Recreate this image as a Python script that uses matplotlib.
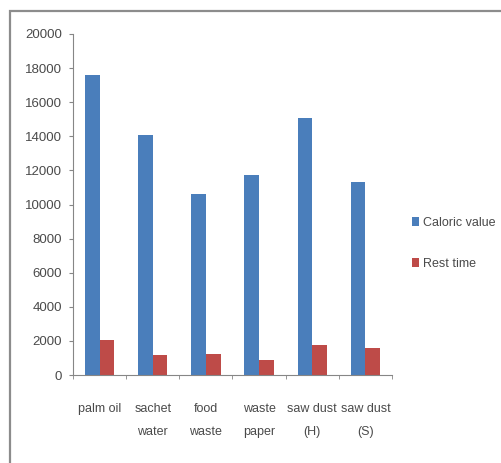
import matplotlib
matplotlib.use("Agg")
import matplotlib.pyplot as plt
import numpy as np
from matplotlib.patches import Rectangle

categories = ["palm oil", "sachet\nwater", "food\nwaste", "waste\npaper", "saw dust\n(H)", "saw dust\n(S)"]
caloric_value = [17600, 14100, 10600, 11750, 15050, 11300]
rest_time = [2050, 1150, 1250, 900, 1750, 1600]
y_ticks = [0, 2000, 4000, 6000, 8000, 10000, 12000, 14000, 16000, 18000, 20000]

blue = "#4a7ebb"
red = "#be4b48"
text_gray = "#4a4a4a"
axis_gray = "#868686"
fam = ["Liberation Sans Narrow", "Liberation Sans", "DejaVu Sans"]

W, H = 502, 463
fig = plt.figure(figsize=(W / 100, H / 100), dpi=100)
fig.patch.set_facecolor("white")

# outer chart frame (only top/left edges fall inside the canvas)
fig.add_artist(Rectangle((10 / W, -0.1), 1.2, 1.1 - 11 / H,
                         transform=fig.transFigure, fill=False,
                         edgecolor="#8c8c8c", linewidth=1.6))

x0, x1 = 73, 392
y_top, y_bot = 34, 375
ax = fig.add_axes([x0 / W, 1 - y_bot / H, (x1 - x0) / W, (y_bot - y_top) / H])

x = np.arange(len(categories))
bw = 0.275
ax.bar(x - bw / 2, caloric_value, bw, color=blue, label="Caloric value")
ax.bar(x + bw / 2, rest_time, bw, color=red, label="Rest time")

ax.set_xlim(-0.5, len(categories) - 0.5)
ax.set_ylim(0, 20000)
ax.set_yticks(y_ticks)
ax.set_yticklabels([str(v) for v in y_ticks])
ax.set_xticks(x)
ax.set_xticklabels(categories, linespacing=2.3)
ax.set_xticks(np.arange(-0.5, len(categories), 1.0), minor=True)

for s in ["top", "right"]:
    ax.spines[s].set_visible(False)
for s in ["left", "bottom"]:
    ax.spines[s].set_color(axis_gray)
    ax.spines[s].set_linewidth(0.8)

ax.tick_params(axis="y", length=3, color=axis_gray, labelsize=9.5,
               labelcolor=text_gray, pad=5)
ax.tick_params(axis="x", which="major", length=0, labelsize=9,
               labelcolor=text_gray, pad=20)
ax.tick_params(axis="x", which="minor", length=3, color=axis_gray)

for lbl in ax.get_yticklabels() + ax.get_xticklabels():
    lbl.set_fontfamily(fam)

leg = fig.legend(loc="upper left", bbox_to_anchor=(412 / W, 1 - 217 / H),
                 frameon=False, borderpad=0, borderaxespad=0,
                 handlelength=0.55, handleheight=0.7,
                 handletextpad=0.35, labelspacing=2.3,
                 prop={"family": fam, "size": 9})
for t in leg.get_texts():
    t.set_color(text_gray)

fig.savefig("out.png", dpi=100)
